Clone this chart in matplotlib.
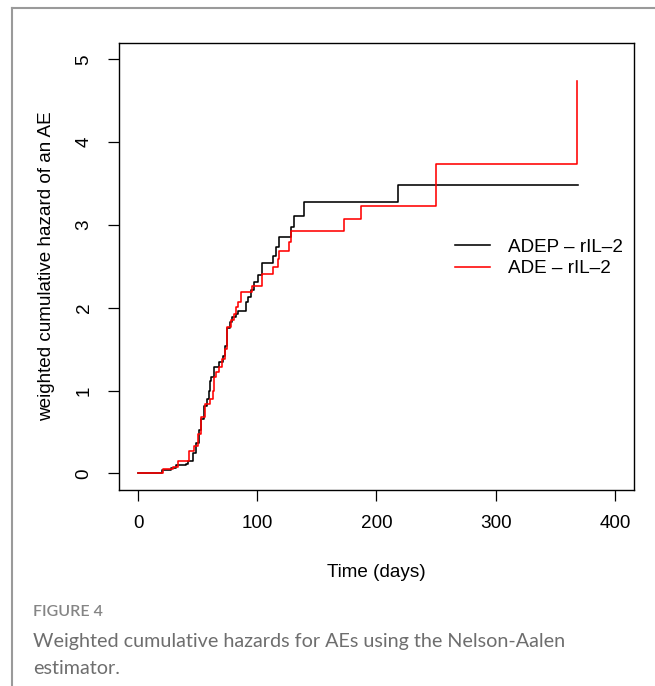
import matplotlib
matplotlib.use("Agg")
import matplotlib.pyplot as plt
from matplotlib.lines import Line2D

# ADEP - rIL-2 (black), step times in days and cumulative hazard
adep_time = [0, 10, 20, 28, 32, 40, 42, 46, 49, 51.5, 53, 55.7, 58, 59.5, 60.5,
             61.2, 64, 68, 71.5, 73, 74.5, 77.3, 79.2, 82.5, 84, 90.4, 92, 94.5,
             97.3, 101, 104.2, 113, 115.3, 118, 128.3, 131, 139, 218, 369]
adep_haz = [0, 0.01, 0.04, 0.065, 0.1, 0.11, 0.15, 0.25, 0.37, 0.52, 0.66, 0.82,
            0.9, 1.0, 1.12, 1.16, 1.28, 1.34, 1.42, 1.54, 1.75, 1.83, 1.89, 1.93,
            1.96, 2.07, 2.13, 2.21, 2.31, 2.39, 2.54, 2.63, 2.73, 2.85, 2.97, 3.11,
            3.28, 3.48, 3.48]

# ADE - rIL-2 (red)
ade_time = [0, 10, 21, 29, 33.5, 39, 43, 46.5, 50, 53, 56.5, 60, 62.6, 64, 65.4,
            67.6, 70.4, 73.2, 75, 77.9, 80.6, 82, 84.2, 86.2, 95.9, 104.2, 113,
            117.5, 118.6, 126.4, 128, 173, 187, 249.5, 368]
ade_haz = [0, 0.01, 0.05, 0.08, 0.145, 0.15, 0.27, 0.33, 0.48, 0.68, 0.84, 0.9,
           1.0, 1.16, 1.22, 1.28, 1.38, 1.50, 1.77, 1.85, 1.93, 2.01, 2.07, 2.19,
           2.26, 2.41, 2.49, 2.59, 2.68, 2.79, 2.93, 3.07, 3.23, 3.73, 4.74]

labels = ["ADEP \u2013 rIL\u20132", "ADE \u2013 rIL\u20132"]
x_ticks = [0, 100, 200, 300, 400]
y_ticks = [0, 1, 2, 3, 4, 5]

plt.rcParams['font.family'] = ['Liberation Sans', 'DejaVu Sans']
fs = 13.6  # R cex=1

fig = plt.figure(figsize=(6.55, 6.86), dpi=100)
ax = fig.add_axes([119 / 655, 1 - 490 / 686, (634 - 119) / 655, (490 - 42.7) / 686])

ax.plot(adep_time, adep_haz, drawstyle='steps-post', color='black', lw=1.15, label=labels[0])
ax.plot(ade_time, ade_haz, drawstyle='steps-post', color='red', lw=1.15, label=labels[1])

ax.set_xlim(-16, 416)
ax.set_ylim(-0.2, 5.2)
ax.set_xticks(x_ticks)
ax.set_yticks(y_ticks)
ax.tick_params(direction='out', length=8, width=0.9, labelsize=fs, pad=10)
ax.tick_params(axis='y', pad=11)
for lab in ax.get_yticklabels():
    lab.set_rotation(90)
    lab.set_va('center')
for sp in ax.spines.values():
    sp.set_linewidth(1.0)

ax.set_xlabel("Time (days)", fontsize=fs, labelpad=23)
ax.set_ylabel("weighted cumulative hazard of an AE", fontsize=fs, labelpad=15)

ax.legend(loc='center left', bbox_to_anchor=(455 / 655, 1 - 258 / 686),
          bbox_transform=fig.transFigure, frameon=False, fontsize=fs,
          borderpad=0, borderaxespad=0, handlelength=1.85, handletextpad=0.95,
          labelspacing=0.22)

# frame lines of the figure panel
fig.add_artist(Line2D([12 / 655, 1], [1 - 8 / 686, 1 - 8 / 686], color='#9a9a9a', lw=1.5))
fig.add_artist(Line2D([12 / 655, 12 / 655], [0, 1 - 8 / 686], color='#9a9a9a', lw=1.5))

# caption
fig.text(33 / 655, 1 - 612 / 686, "FIGURE 4", fontsize=11.5, color='#858585',
         family=['Lato', 'DejaVu Sans'], weight='semibold', va='center')
fig.text(33 / 655, 1 - 641 / 686, "Weighted cumulative hazards for AEs using the Nelson-Aalen",
         fontsize=14.2, color='#6e6e6e', family=['Lato', 'DejaVu Sans'], va='center')
fig.text(33 / 655, 1 - 668 / 686, "estimator.",
         fontsize=14.2, color='#6e6e6e', family=['Lato', 'DejaVu Sans'], va='center')

fig.savefig("out.png", dpi=100)
